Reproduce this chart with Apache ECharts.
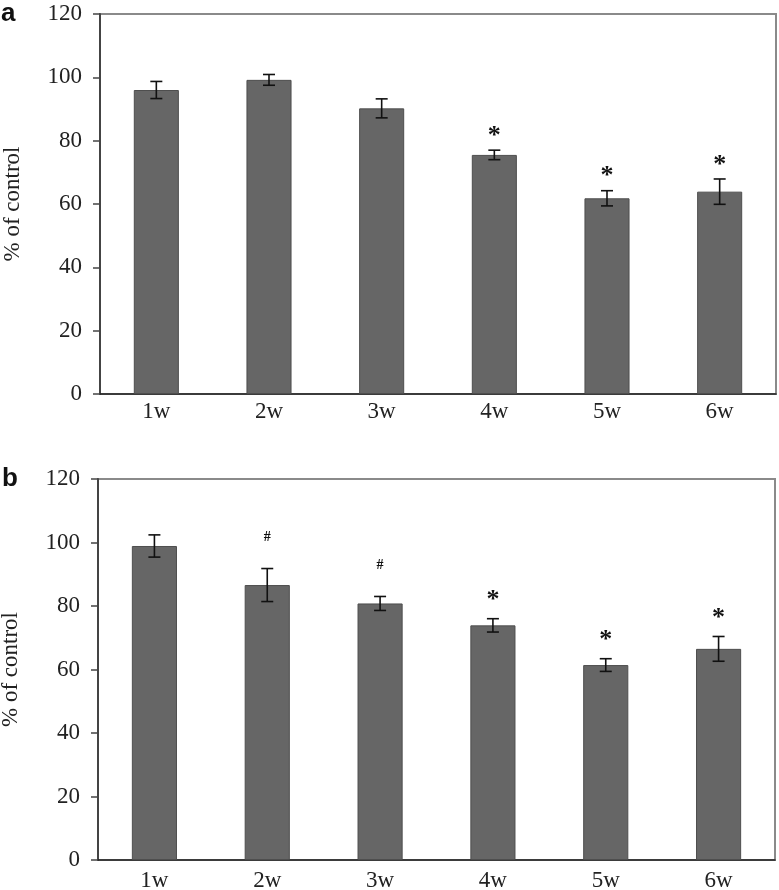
<!DOCTYPE html>
<html>
<head>
<meta charset="utf-8">
<script src="https://cdn.jsdelivr.net/npm/echarts@6/dist/echarts.min.js"></script>
<style>html,body{margin:0;padding:0;background:#fff}#c{width:779px;height:890px}</style>
</head>
<body>
<div id="c"></div>
<script>
const weeks = ['1w', '2w', '3w', '4w', '5w', '6w'];
const meanA = [96.0, 99.2, 90.2, 75.5, 61.8, 63.9];
const errA = [2.7, 1.7, 3.0, 1.5, 2.4, 4.0];
const markA = ['', '', '', '*', '*', '*'];
const meanB = [98.9, 86.6, 80.8, 73.9, 61.4, 66.5];
const errB = [3.5, 5.2, 2.2, 2.1, 2.0, 3.9];
const markB = ['', '#', '#', '*', '*', '*'];
const yMin = 0, yMax = 120, yStep = 20;
const yName = '% of control';

const SERIF = '"Liberation Serif", "Times New Roman", serif';

function errSeries(means, errs, marks, axisIdx, offStar, offHash) {
  return {
    type: 'custom',
    xAxisIndex: axisIdx, yAxisIndex: axisIdx,
    data: means.map((m, i) => [i, m - errs[i], m + errs[i]]),
    z: 10,
    renderItem: function (params, api) {
      const x = api.value(0);
      const lo = api.coord([x, api.value(1)]);
      const hi = api.coord([x, api.value(2)]);
      const w = 6;
      const st = { stroke: '#111', lineWidth: 1.6 };
      const children = [
        { type: 'line', shape: { x1: lo[0], y1: lo[1], x2: hi[0], y2: hi[1] }, style: st },
        { type: 'line', shape: { x1: lo[0] - w, y1: lo[1], x2: lo[0] + w, y2: lo[1] }, style: st },
        { type: 'line', shape: { x1: hi[0] - w, y1: hi[1], x2: hi[0] + w, y2: hi[1] }, style: st }
      ];
      const mk = marks[params.dataIndex];
      if (mk === '*') {
        children.push({ type: 'text', style: { text: '*', x: hi[0], y: hi[1] - offStar + 7, align: 'center', verticalAlign: 'middle', font: 'bold 26px ' + SERIF, fill: '#111' } });
      } else if (mk === '#') {
        children.push({ type: 'text', style: { text: '#', x: hi[0], y: hi[1] - offHash, align: 'center', verticalAlign: 'middle', font: 'bold 14px ' + SERIF, fill: '#111' } });
      }
      return { type: 'group', children: children };
    }
  };
}

function yAx(gi) {
  return {
    type: 'value', gridIndex: gi, min: yMin, max: yMax, interval: yStep,
    name: yName, nameLocation: 'middle', nameGap: 76, nameRotate: 90,
    nameTextStyle: { fontFamily: SERIF, fontSize: 23, color: '#222' },
    axisLine: { show: true, lineStyle: { color: '#444', width: 2 } },
    axisTick: { show: true, inside: false, length: 7, lineStyle: { color: '#444', width: 1.5 } },
    axisLabel: { margin: 18, fontFamily: SERIF, fontSize: 23, color: '#222' },
    splitLine: { show: false }
  };
}
function xAx(gi, margin) {
  return {
    type: 'category', gridIndex: gi, data: weeks,
    axisLine: { show: true, lineStyle: { color: '#222', width: 1.5 } },
    axisTick: { show: false },
    axisLabel: { margin: margin, fontFamily: SERIF, fontSize: 23, color: '#222' }
  };
}
function barSeries(vals, gi) {
  return {
    type: 'bar', xAxisIndex: gi, yAxisIndex: gi, data: vals, barWidth: '40%',
    itemStyle: { color: '#666666', borderColor: '#4e4e4e', borderWidth: 1 }
  };
}

const chart = echarts.init(document.getElementById('c'), null, { renderer: 'canvas' });
chart.setOption({
  animation: false,
  backgroundColor: '#fff',
  grid: [
    { left: 100, top: 14, width: 676, height: 380, show: true, borderColor: '#8a8a8a', borderWidth: 2, outerBoundsMode: 'none', containLabel: false },
    { left: 98, top: 479, width: 677, height: 381, show: true, borderColor: '#8a8a8a', borderWidth: 2, outerBoundsMode: 'none', containLabel: false }
  ],
  xAxis: [xAx(0, 6), xAx(1, 9)],
  yAxis: [yAx(0), yAx(1)],
  series: [
    barSeries(meanA, 0), errSeries(meanA, errA, markA, 0, 21, 30),
    barSeries(meanB, 1), errSeries(meanB, errB, markB, 1, 25, 31)
  ],
  graphic: [
    { type: 'text', left: 1, top: 1, style: { text: 'a', font: 'bold 26px "Liberation Sans", Arial, sans-serif', fill: '#111' } },
    { type: 'text', left: 2, top: 466, style: { text: 'b', font: 'bold 26px "Liberation Sans", Arial, sans-serif', fill: '#111' } }
  ]
});
</script>
</body>
</html>
